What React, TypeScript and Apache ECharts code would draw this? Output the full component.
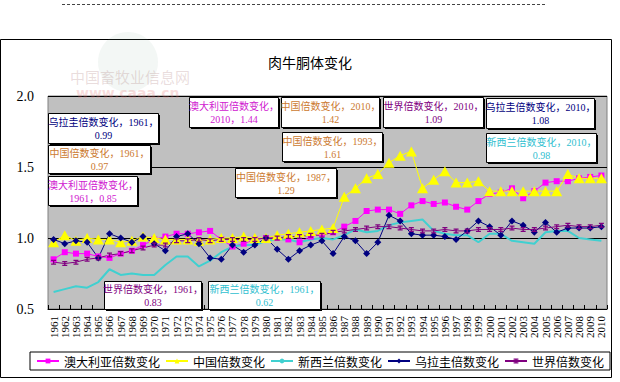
import React, { useEffect, useRef } from 'react';
import * as echarts from 'echarts';

const years = ['1961','1962','1963','1964','1965','1966','1967','1968','1969','1970',
  '1971','1972','1973','1974','1975','1976','1977','1978','1979','1980',
  '1981','1982','1983','1984','1985','1986','1987','1988','1989','1990',
  '1991','1992','1993','1994','1995','1996','1997','1998','1999','2000',
  '2001','2002','2003','2004','2005','2006','2007','2008','2009','2010'];

const australia = [0.85,0.90,0.89,0.89,0.87,0.86,0.89,0.91,0.95,0.99,
  1.01,1.03,1.03,1.04,1.05,0.99,0.94,0.96,0.99,1.00,
  1.00,0.99,0.97,1.01,1.03,1.04,1.08,1.12,1.19,1.20,
  1.20,1.17,1.23,1.26,1.24,1.25,1.22,1.20,1.26,1.31,
  1.32,1.35,1.28,1.33,1.39,1.40,1.40,1.42,1.43,1.44];

const china = [0.97,1.02,0.98,1.00,0.99,0.99,0.97,0.98,1.01,1.00,
  0.99,0.99,0.99,0.98,0.99,1.00,1.00,1.01,1.00,1.00,
  1.02,1.03,1.04,1.05,1.06,1.07,1.29,1.35,1.42,1.45,
  1.53,1.58,1.61,1.35,1.41,1.47,1.39,1.39,1.40,1.33,
  1.33,1.33,1.33,1.33,1.33,1.33,1.45,1.42,1.42,1.42];

const newZealand = [0.62,0.64,0.66,0.65,0.69,0.78,0.74,0.75,0.74,0.74,
  0.81,0.87,0.87,0.80,0.84,0.90,0.94,0.95,0.95,0.98,
  0.99,0.99,0.97,0.99,1.00,0.99,1.02,1.06,1.04,1.05,
  1.09,1.11,1.12,1.13,1.05,1.03,1.02,1.02,0.97,1.03,
  1.03,0.98,0.97,0.96,1.04,1.05,1.05,1.00,0.99,0.98];

const uruguay = [0.99,0.96,0.98,0.97,0.86,1.03,1.00,0.97,1.01,0.96,
  0.91,1.01,1.03,0.96,0.86,0.85,0.95,0.90,0.95,1.00,
  0.92,0.85,0.91,0.95,0.98,0.89,1.01,0.98,0.89,0.97,
  1.16,1.12,1.03,1.02,1.02,1.01,0.99,1.05,1.12,1.08,
  1.02,1.12,1.09,1.04,1.11,1.04,1.07,1.07,1.07,1.08];

const world = [0.83,0.82,0.83,0.85,0.86,0.88,0.89,0.91,0.93,0.95,
  0.95,0.98,0.98,0.99,0.98,0.99,0.99,0.99,0.99,1.00,
  1.00,1.01,1.01,1.02,1.02,1.04,1.05,1.06,1.07,1.08,
  1.08,1.07,1.06,1.05,1.05,1.06,1.05,1.05,1.06,1.06,
  1.06,1.07,1.06,1.06,1.07,1.08,1.09,1.08,1.08,1.09];

const seriesNames = ['澳大利亚倍数变化', '中国倍数变化', '新西兰倍数变化', '乌拉圭倍数变化', '世界倍数变化'];
const seriesData = [australia, china, newZealand, uruguay, world];
const chartTitle = '肉牛胴体变化';

// styling (not data)
const lineColors = ['#ff00ff', '#ffff00', '#40d0d0', '#000080', '#800080'];
const labelColors = ['#d020d0', '#cc7a30', '#30c0d0', '#000080', '#800080'];

// annotation boxes: series index, year, how to wrap, box layout [x, y, w, h]
const annotations = [
  { s: 3, year: '1961', wrap: 'year', box: [48, 113, 110, 30] },
  { s: 1, year: '1961', wrap: 'year', box: [48, 145, 102, 28] },
  { s: 0, year: '1961', wrap: 'name', box: [48, 176, 89, 29] },
  { s: 0, year: '2010', wrap: 'name', box: [189, 97, 89, 30] },
  { s: 1, year: '2010', wrap: 'year', box: [281, 97, 98, 30] },
  { s: 4, year: '2010', wrap: 'year', box: [383, 97, 100, 30] },
  { s: 3, year: '2010', wrap: 'year', box: [486, 98, 108, 30] },
  { s: 2, year: '2010', wrap: 'year', box: [486, 133, 110, 29] },
  { s: 1, year: '1993', wrap: 'year', box: [282, 132, 100, 29] },
  { s: 1, year: '1987', wrap: 'year', box: [235, 168, 101, 29] },
  { s: 4, year: '1961', wrap: 'year', box: [104, 281, 97, 28] },
  { s: 2, year: '1961', wrap: 'year', box: [208, 281, 112, 28] },
];

const textFont = "'Liberation Serif', 'Noto Sans CJK SC', serif";

export default function App() {
  const ref = useRef<HTMLDivElement>(null);
  useEffect(() => {
    if (!ref.current) return;
    const chart = echarts.init(ref.current, undefined, { renderer: 'svg' });

    const graphics: any[] = [];
    // outer frame
    graphics.push({ type: 'rect', shape: { x: 0.5, y: 39.5, width: 611, height: 338 }, style: { fill: 'none', stroke: '#000', lineWidth: 1 }, z: 0 });
    graphics.push({ type: 'line', shape: { x1: 62, y1: 4.5, x2: 546, y2: 4.5 }, style: { stroke: '#444', lineWidth: 1, lineDash: [3, 2] } });
    // faint watermark
    graphics.push({ type: 'circle', shape: { cx: 128, cy: 62, r: 30 }, style: { fill: 'rgba(120,170,140,0.09)' }, z: 1 });
    graphics.push({ type: 'text', x: 70, y: 78, style: { text: '中国畜牧业信息网', fill: 'rgba(170,120,120,0.25)', fontSize: 15, fontFamily: textFont, verticalAlign: 'middle' }, z: 1 });
    graphics.push({ type: 'text', x: 76, y: 93, style: { text: 'www.caaa.cn', fill: 'rgba(230,120,120,0.25)', fontSize: 14, fontWeight: 'bold', fontFamily: 'DejaVu Sans', verticalAlign: 'middle' }, z: 1 });

    annotations.forEach((a) => {
      const name = seriesNames[a.s];
      const v = seriesData[a.s][years.indexOf(a.year)].toFixed(2);
      const text = a.wrap === 'name' ? `${name}，\n${a.year}，${v}` : `${name}，${a.year}，\n${v}`;
      const [x, y, w, h] = a.box;
      graphics.push({ type: 'rect', shape: { x: x + 2, y: y + 2, width: w, height: h }, style: { fill: '#000' }, z: 100 });
      graphics.push({ type: 'rect', shape: { x: x + 0.5, y: y + 0.5, width: w, height: h }, style: { fill: '#fff', stroke: '#000', lineWidth: 1 }, z: 101 });
      graphics.push({
        type: 'text', x: x + w / 2 + 0.5, y: y + h / 2 + 1, z: 102,
        style: { text, fill: labelColors[a.s], fontSize: 10, fontFamily: textFont, align: 'center', verticalAlign: 'middle', lineHeight: 13 },
      });
    });

    const symbols = ['rect', 'triangle', 'none', 'diamond', 'path://M0,0H6V1.5H3.8V4.5H6V6H0V4.5H2.2V1.5H0Z'];
    const sizes: any[] = [6, [11, 10], 2, 7, [5, 5]];
    const widths = [1, 1, 2, 1, 1];

    chart.setOption({
      animation: false,
      backgroundColor: '#fff',
      title: {
        text: chartTitle, left: 'center', top: 55, padding: 0,
        textStyle: { fontSize: 14, fontWeight: 'normal', fontFamily: 'Noto Sans CJK SC', color: '#000' },
      },
      grid: { left: 48, right: 13, top: 96, bottom: 73, show: true, backgroundColor: '#c0c0c0', borderColor: '#808080', borderWidth: 1 },
      legend: {
        data: seriesNames, left: 30, top: 352, orient: 'horizontal',
        itemWidth: 22, itemHeight: 6, itemGap: 5, padding: [3, 6, 3, 6],
        borderColor: '#000', borderWidth: 1, backgroundColor: '#fff',
        textStyle: { fontSize: 12, fontFamily: 'Noto Sans CJK SC', color: '#000' },
      },
      xAxis: {
        type: 'category', data: years, boundaryGap: true,
        axisLine: { show: true, lineStyle: { color: '#000' } },
        axisTick: { show: true, inside: true, length: 4, interval: 0, lineStyle: { color: '#000' } },
        axisLabel: { interval: 0, rotate: 90, fontSize: 11, fontFamily: 'Liberation Serif', color: '#000', margin: 7 },
        splitLine: { show: false },
      },
      yAxis: {
        type: 'value', min: 0.5, max: 2.0, interval: 0.5,
        axisLine: { show: false }, axisTick: { show: false },
        axisLabel: { formatter: (val: number) => val.toFixed(1), fontSize: 14, fontFamily: 'Liberation Serif', color: '#000', margin: 14 },
        splitLine: { show: true, lineStyle: { color: '#000', width: 1 } },
      },
      series: seriesNames.map((name, i) => ({
        name, type: 'line', data: seriesData[i],
        symbol: symbols[i], symbolSize: sizes[i], showSymbol: i !== 2,
        itemStyle: { color: lineColors[i] },
        lineStyle: { color: lineColors[i], width: widths[i] },
        emphasis: { disabled: true },
      })),
      graphic: graphics,
    });
    return () => chart.dispose();
  }, []);
  return <div ref={ref} style={{ position: 'fixed', left: 0, top: 0, width: 620, height: 382 }} />;
}
